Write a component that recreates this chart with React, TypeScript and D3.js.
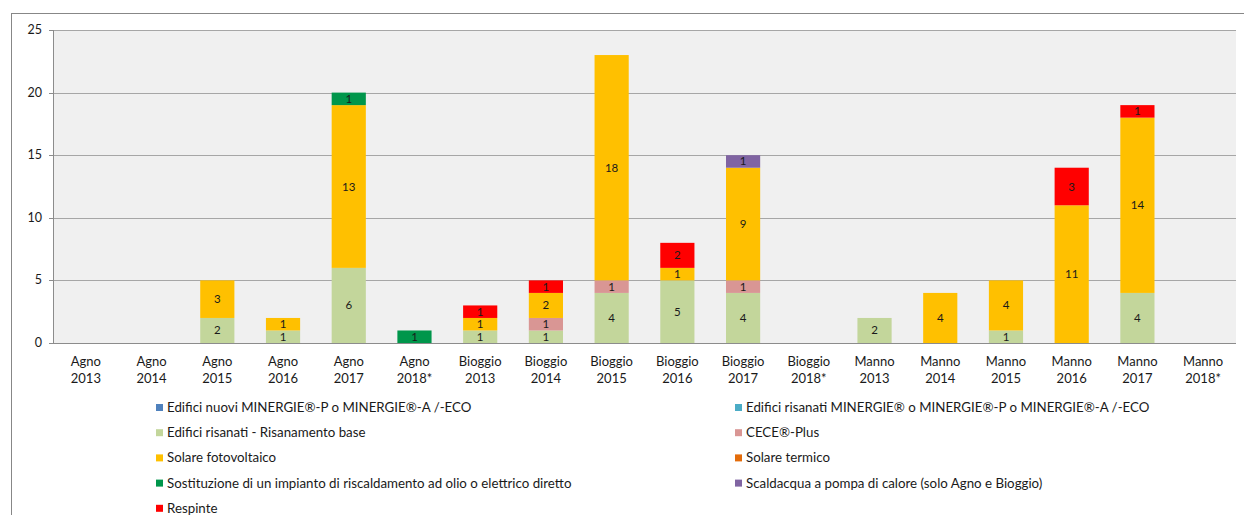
import React from "react";
import * as d3 from "d3";

const categories = [
  "Agno 2013", "Agno 2014", "Agno 2015", "Agno 2016", "Agno 2017", "Agno 2018*",
  "Bioggio 2013", "Bioggio 2014", "Bioggio 2015", "Bioggio 2016", "Bioggio 2017", "Bioggio 2018*",
  "Manno 2013", "Manno 2014", "Manno 2015", "Manno 2016", "Manno 2017", "Manno 2018*",
];

const seriesNames = [
  "Edifici nuovi MINERGIE®-P o MINERGIE®-A /-ECO",
  "Edifici risanati MINERGIE® o MINERGIE®-P o MINERGIE®-A /-ECO",
  "Edifici risanati - Risanamento base",
  "CECE®-Plus",
  "Solare fotovoltaico",
  "Solare termico",
  "Sostituzione di un impianto di riscaldamento ad olio o elettrico diretto",
  "Scaldacqua a pompa di calore (solo Agno e Bioggio)",
  "Respinte",
];

const seriesColors = ["#4F81BD", "#4BACC6", "#C3D69B", "#D99694", "#FFC000", "#E46C0A", "#00964B", "#8064A2", "#FF0000"];

const nuovi = [0, 0, 0, 0, 0, 0, 0, 0, 0, 0, 0, 0, 0, 0, 0, 0, 0, 0];
const risanatiMinergie = [0, 0, 0, 0, 0, 0, 0, 0, 0, 0, 0, 0, 0, 0, 0, 0, 0, 0];
const risanamentoBase = [0, 0, 2, 1, 6, 0, 1, 1, 4, 5, 4, 0, 2, 0, 1, 0, 4, 0];
const cecePlus = [0, 0, 0, 0, 0, 0, 0, 1, 1, 0, 1, 0, 0, 0, 0, 0, 0, 0];
const fotovoltaico = [0, 0, 3, 1, 13, 0, 1, 2, 18, 1, 9, 0, 0, 4, 4, 11, 14, 0];
const termico = [0, 0, 0, 0, 0, 0, 0, 0, 0, 0, 0, 0, 0, 0, 0, 0, 0, 0];
const sostituzione = [0, 0, 0, 0, 1, 1, 0, 0, 0, 0, 0, 0, 0, 0, 0, 0, 0, 0];
const scaldacqua = [0, 0, 0, 0, 0, 0, 0, 0, 0, 0, 1, 0, 0, 0, 0, 0, 0, 0];
const respinte = [0, 0, 0, 0, 0, 0, 1, 1, 0, 2, 0, 0, 0, 0, 0, 3, 1, 0];

const seriesValues = [nuovi, risanatiMinergie, risanamentoBase, cecePlus, fotovoltaico, termico, sostituzione, scaldacqua, respinte];

const yTicks = [0, 5, 10, 15, 20, 25];

const FONT = "Lato, 'Open Sans', sans-serif";

export default function App() {
  const W = 1244;
  const H = 515;
  const left = 53, right = 1236, top = 30, bottom = 343;

  const x = d3.scaleBand<string>().domain(categories).range([left, right]).paddingInner(0.48).paddingOuter(0.24);
  const y = d3.scaleLinear().domain([0, 25]).range([bottom, top]);

  const keys = seriesNames.map((_, i) => String(i));
  const table = categories.map((c, ci) => {
    const row: any = { cat: c };
    seriesValues.forEach((s, si) => (row[String(si)] = s[ci]));
    return row;
  });
  const stacked = d3.stack<any>().keys(keys)(table);

  const legendRows = [
    [0, 1],
    [2, 3],
    [4, 5],
    [6, 7],
    [8, -1],
  ];

  return (
    <svg width={W} height={H} style={{ position: "absolute", left: 0, top: 0, display: "block" }}>
      <rect x={0} y={0} width={W} height={H} fill="#ffffff" />
      <rect x={11.5} y={13.5} width={W + 10} height={H + 10} fill="none" stroke="#878787" strokeWidth={1} />
      <rect x={left} y={top} width={right - left} height={bottom - top} fill="#f0f0f0" />
      {yTicks.map((t) => (
        <g key={t}>
          <line x1={left} x2={right} y1={Math.round(y(t)) + 0.5} y2={Math.round(y(t)) + 0.5} stroke={t === 0 ? "#8c8c8c" : "#a6a6a6"} strokeWidth={1} />
          <line x1={left - 4} x2={left} y1={Math.round(y(t)) + 0.5} y2={Math.round(y(t)) + 0.5} stroke="#8c8c8c" />
          <text x={left - 11} y={y(t) + 4} textAnchor="end" fontFamily={FONT} fontSize={12.5} fill="#1a1a1a">{t}</text>
        </g>
      ))}
      <line x1={left + 0.5} x2={left + 0.5} y1={top} y2={bottom} stroke="#8c8c8c" />
      {stacked.map((layer, si) =>
        layer.map((d, ci) => {
          const v = d[1] - d[0];
          if (v <= 0) return null;
          const bx = x(categories[ci])!;
          const bw = x.bandwidth();
          const y0 = y(d[0]);
          const y1 = y(d[1]);
          return (
            <g key={`${si}-${ci}`}>
              <rect x={bx} y={y1} width={bw} height={y0 - y1} fill={seriesColors[si]} />
              <text x={bx + bw / 2} y={(y0 + y1) / 2 + 4} textAnchor="middle" fontFamily={FONT} fontSize={11.5} fill="#1a1a1a">{v}</text>
            </g>
          );
        })
      )}
      {categories.map((c) => {
        const parts = c.split(" ");
        const cx = x(c)! + x.bandwidth() / 2;
        return (
          <text key={c} textAnchor="middle" fontFamily={FONT} fontSize={13} fill="#1a1a1a">
            <tspan x={cx} y={366}>{parts[0]}</tspan>
            <tspan x={cx} y={383}>{parts[1]}</tspan>
          </text>
        );
      })}
      {legendRows.map((row, ri) =>
        row.map((si, col) => {
          if (si < 0) return null;
          const lx = col === 0 ? 156 : 735;
          const ly = 408 + ri * 25.2;
          return (
            <g key={si}>
              <rect x={lx} y={ly - 4} width={7} height={7} fill={seriesColors[si]} />
              <text x={lx + 11} y={ly + 4} fontFamily={FONT} fontSize={13.3} fill="#1a1a1a">{seriesNames[si]}</text>
            </g>
          );
        })
      )}
    </svg>
  );
}
